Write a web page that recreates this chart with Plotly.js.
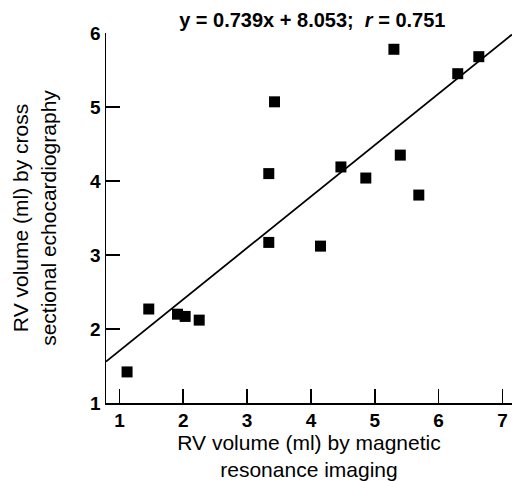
<!DOCTYPE html>
<html>
<head>
<meta charset="utf-8">
<script src="https://cdn.plot.ly/plotly-3.0.1.min.js"></script>
<style>html,body{margin:0;padding:0;background:#fff;}#chart{width:512px;height:481px;}</style>
</head>
<body>
<div id="chart"></div>
<script>
var mriVolume = [1.12, 1.46, 1.91, 2.03, 2.25, 3.34, 3.34, 3.43, 4.15, 4.47, 4.86, 5.30, 5.40, 5.69, 6.30, 6.63];
var echoVolume = [1.42, 2.27, 2.20, 2.17, 2.12, 3.17, 4.10, 5.07, 3.12, 4.19, 4.04, 5.78, 4.35, 3.81, 5.45, 5.68];
var fitX = [0.79, 7.15];
var fitY = [1.56, 5.98];
var xTicks = [1, 2, 3, 4, 5, 6, 7];
var yTicks = [1, 2, 3, 4, 5, 6];

var font = "Liberation Sans, Arial, sans-serif";
var data = [
  {x: fitX, y: fitY, mode: 'lines', type: 'scatter', line: {color: '#000', width: 1.8}, hoverinfo: 'skip'},
  {x: mriVolume, y: echoVolume, mode: 'markers', type: 'scatter',
   marker: {symbol: 'square', size: 11, color: '#000'}, cliponaxis: false}
];
var layout = {
  width: 512, height: 481,
  margin: {l: 106, r: 0, t: 33, b: 78},
  paper_bgcolor: '#fff', plot_bgcolor: '#fff',
  showlegend: false,
  title: {text: 'y = 0.739x + 8.053;  <i>r</i> = 0.751', x: 0.61, xanchor: 'center', y: 0.958, yanchor: 'middle',
          font: {family: font, size: 20, color: '#000', weight: 'bold'}},
  xaxis: {range: [0.79, 7.15], tickvals: xTicks, ticktext: xTicks.map(String),
          ticks: 'inside', ticklen: 14, tickwidth: 1.5, tickcolor: '#000',
          showline: true, linecolor: '#000', linewidth: 1.5, showgrid: false, zeroline: false,
          tickfont: {family: font, size: 19, color: '#000', weight: 'bold'},
          title: {text: 'RV volume (ml) by magnetic<br>resonance imaging', standoff: 10,
                  font: {family: font, size: 21, color: '#000'}}},
  yaxis: {range: [1, 6], tickvals: yTicks, ticktext: yTicks.map(String),
          ticks: 'inside', ticklen: 14, tickwidth: 1.5, tickcolor: '#000',
          showline: true, linecolor: '#000', linewidth: 1.5, showgrid: false, zeroline: false,
          tickfont: {family: font, size: 19, color: '#000', weight: 'bold'},
          title: {text: 'RV volume (ml) by cross<br>sectional echocardiography', standoff: 28,
                  font: {family: font, size: 21, color: '#000'}}}
};
Plotly.newPlot('chart', data, layout, {displayModeBar: false, staticPlot: true});
</script>
</body>
</html>
